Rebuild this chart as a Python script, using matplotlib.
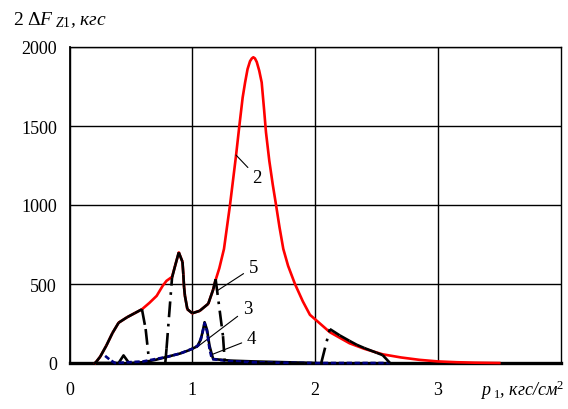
import numpy as np
import matplotlib.pyplot as plt
from matplotlib.collections import LineCollection

plt.rcParams['font.family'] = ['Liberation Serif', 'DejaVu Serif']
plt.rcParams['mathtext.fontset'] = 'custom'
plt.rcParams['mathtext.rm'] = 'Liberation Serif'
plt.rcParams['mathtext.it'] = 'Liberation Serif:italic'

# curve 2 (red)
red_x = [0.21, 0.25, 0.30, 0.35, 0.40, 0.47, 0.53, 0.59, 0.65, 0.71, 0.76, 0.79, 0.835,
         0.86, 0.89, 0.92, 0.927, 0.933, 0.94, 0.96, 1.00, 1.06, 1.13, 1.17, 1.19, 1.22,
         1.258, 1.307, 1.356, 1.383, 1.41, 1.43, 1.45, 1.47, 1.485, 1.497, 1.51, 1.525,
         1.545, 1.565, 1.585, 1.60, 1.627, 1.655, 1.682, 1.71, 1.741, 1.78, 1.836, 1.90,
         1.958, 2.013, 2.12, 2.28, 2.40, 2.55, 2.70, 2.85, 3.0, 3.15, 3.3, 3.5]
red_y = [0, 40, 110, 190, 255, 290, 315, 340, 380, 425, 490, 520, 545,
         615, 700, 640, 560, 480, 425, 340, 315, 330, 375, 465, 525, 600,
         722, 1000, 1312, 1500, 1680, 1776, 1860, 1910, 1928, 1935, 1928, 1905,
         1850, 1776, 1600, 1460, 1280, 1130, 1000, 860, 722, 615, 500, 390,
         305, 268, 195, 125, 90, 55, 35, 20, 10, 5, 2, 0]

# curve 5 (black, dash-dot)
c5_x = [0.21, 0.25, 0.30, 0.35, 0.40, 0.47, 0.53, 0.59, 0.62, 0.65, 0.78, 0.79, 0.835,
        0.86, 0.89, 0.92, 0.927, 0.933, 0.94, 0.96, 1.00, 1.06, 1.13, 1.17, 1.19, 1.25,
        1.265, 2.05, 2.12, 2.20, 2.28, 2.34, 2.40, 2.50, 2.55, 2.61]
c5_y = [0, 40, 110, 190, 255, 290, 315, 340, 215, 0, 0, 90, 540,
        615, 700, 640, 560, 480, 425, 340, 315, 330, 375, 465, 530, 170,
        0, 0, 215, 175, 140, 115, 95, 65, 50, 0]

# curve 3 (black, solid)
c3_x = [0.21, 0.40, 0.44, 0.48, 0.50, 0.60, 0.70, 0.80, 0.90, 0.97, 1.04, 1.07, 1.09,
        1.10, 1.12, 1.14, 1.158, 1.17, 1.31, 1.50, 1.71, 2.00]
c3_y = [0, 0, 48, 5, 0, 5, 20, 40, 60, 80, 105, 150, 220,
        258, 210, 110, 57, 25, 15, 10, 6, 0]

# curve 4 (navy, dashed)
c4_x = [0.29, 0.33, 0.37, 0.60, 0.70, 0.80, 0.90, 1.00, 1.05, 1.08, 1.10, 1.12, 1.14,
        1.16, 1.30, 1.50, 1.70, 2.00, 2.61]
c4_y = [45, 20, 0, 10, 25, 40, 60, 90, 112, 180, 252, 200, 90,
        25, 12, 5, 2, 0, 0]

fig = plt.figure(figsize=(5.68, 4.10), dpi=100)
ax = fig.add_axes([69.5 / 568, 46 / 410, 491.2 / 568, 316 / 410])

ax.plot(red_x, red_y, color='#ff0000', lw=1.9, zorder=3, clip_on=False)
ax.plot(c3_x, c3_y, color='black', lw=1.9, zorder=4, clip_on=False)
ax.plot(c4_x, c4_y, color='#000080', lw=1.9, ls=(0, (2, 1)), zorder=5, clip_on=False)

# dash pattern restarts on every segment, like the original spreadsheet chart
segs = [[(c5_x[i], c5_y[i]), (c5_x[i + 1], c5_y[i + 1])] for i in range(len(c5_x) - 1)]
lc = LineCollection(segs, colors='black', linewidths=1.9,
                    linestyles=[(0, (6, 2.5, 1, 2.5))], zorder=6, clip_on=False)
ax.add_collection(lc)

ax.set_xlim(0, 4)
ax.set_ylim(0, 2000)
ax.set_xticks([0, 1, 2, 3])
ax.set_yticks([0, 500, 1000, 1500, 2000])
ax.set_axisbelow(True)
ax.grid(True, color='black', lw=1.0)
ax.tick_params(length=0, labelsize=13)
ax.tick_params(axis='y', pad=9)
ax.tick_params(axis='x', pad=13)
for s in ['top', 'right']:
    ax.spines[s].set_linewidth(1.0)
ax.spines['left'].set_linewidth(1.3)
ax.spines['bottom'].set_linewidth(2.4)

lab = dict(ha='center', va='center', fontsize=13.5,
           arrowprops=dict(arrowstyle='-', lw=0.8, color='black', shrinkA=2, shrinkB=0))
ax.annotate('2', xy=(1.356, 1316), xytext=(1.529, 1175), **lab)
ax.annotate('5', xy=(1.204, 458), xytext=(1.497, 606), **lab)
ax.annotate('3', xy=(1.036, 99), xytext=(1.448, 342), **lab)
ax.annotate('4', xy=(1.158, 53), xytext=(1.484, 152), **lab)

fig.text(13 / 568, (410 - 25) / 410, r'$2\ \Delta F_{\ Z1}$, кгс',
         fontsize=14, style='italic', ha='left', va='baseline')
fig.text(564 / 568, (410 - 396) / 410, r'$p_{\ 1}$, кгс/см$^2$',
         fontsize=13, style='italic', ha='right', va='baseline')

fig.savefig('out.png', dpi=100)
